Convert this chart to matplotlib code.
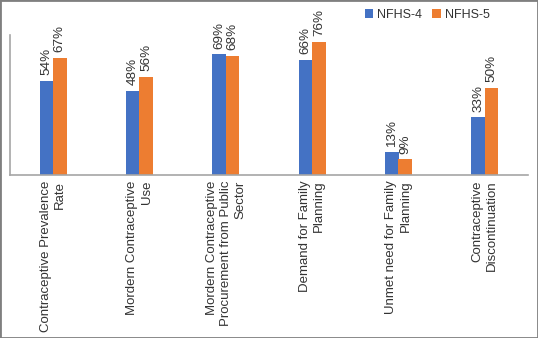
import numpy as np
import matplotlib
matplotlib.use("Agg")
from matplotlib import pyplot as plt
from matplotlib.patches import Rectangle

categories = ["Contraceptive Prevalence\nRate",
              "Mordern Contraceptive\nUse",
              "Mordern Contraceptive\nProcurement from Public\nSector",
              "Demand for Family\nPlanning",
              "Unmet need for Family\nPlanning",
              "Contraceptive\nDiscontinuation"]
nfhs4 = [54, 48, 69, 66, 13, 33]
nfhs5 = [67, 56, 68, 76, 9, 50]

plt.rcParams['font.family'] = ['Liberation Sans', 'DejaVu Sans']

fig = plt.figure(figsize=(5.38, 3.38), dpi=100)
ax = fig.add_axes([10/538, 1-175/338, 518/538, 140/338])

x = np.arange(len(categories))
w = 0.155
b1 = ax.bar(x - w/2, nfhs4, w, color='#4472C4', label='NFHS-4')
b2 = ax.bar(x + w/2, nfhs5, w, color='#ED7D31', label='NFHS-5')

for bars in (b1, b2):
    for r in bars:
        ax.annotate(f"{r.get_height():.0f}%", (r.get_x() + r.get_width()/2, r.get_height()),
                    xytext=(0, 4), textcoords='offset points', rotation=90,
                    ha='center', va='bottom', fontsize=9.7, color='#333333')

ax.set_xlim(-0.5, 5.5)
ax.set_ylim(0, 80)
ax.set_yticks([])
ax.set_xticks(x)
ax.set_xticklabels(categories, rotation=90, ha='center', va='top',
                   multialignment='right', fontsize=9.5, color='#333333',
                   linespacing=1.25)
ax.tick_params(axis='x', length=0, pad=4)
for s in ('top', 'right'):
    ax.spines[s].set_visible(False)
for s in ('left', 'bottom'):
    ax.spines[s].set_color('#a6a6a6')
    ax.spines[s].set_linewidth(1.2)

fig.legend(handles=[b1, b2], loc='center', bbox_to_anchor=(427/538, 1-15/338), ncol=2,
           frameon=False, fontsize=9, handlelength=0.7, handleheight=0.7,
           handletextpad=0.3, columnspacing=0.8, labelcolor='#333333')

fig.patches.append(Rectangle((0, 0), 1, 1, transform=fig.transFigure, fill=False,
                             edgecolor='#7f7f7f', linewidth=2))

fig.savefig("out.png", dpi=100)
